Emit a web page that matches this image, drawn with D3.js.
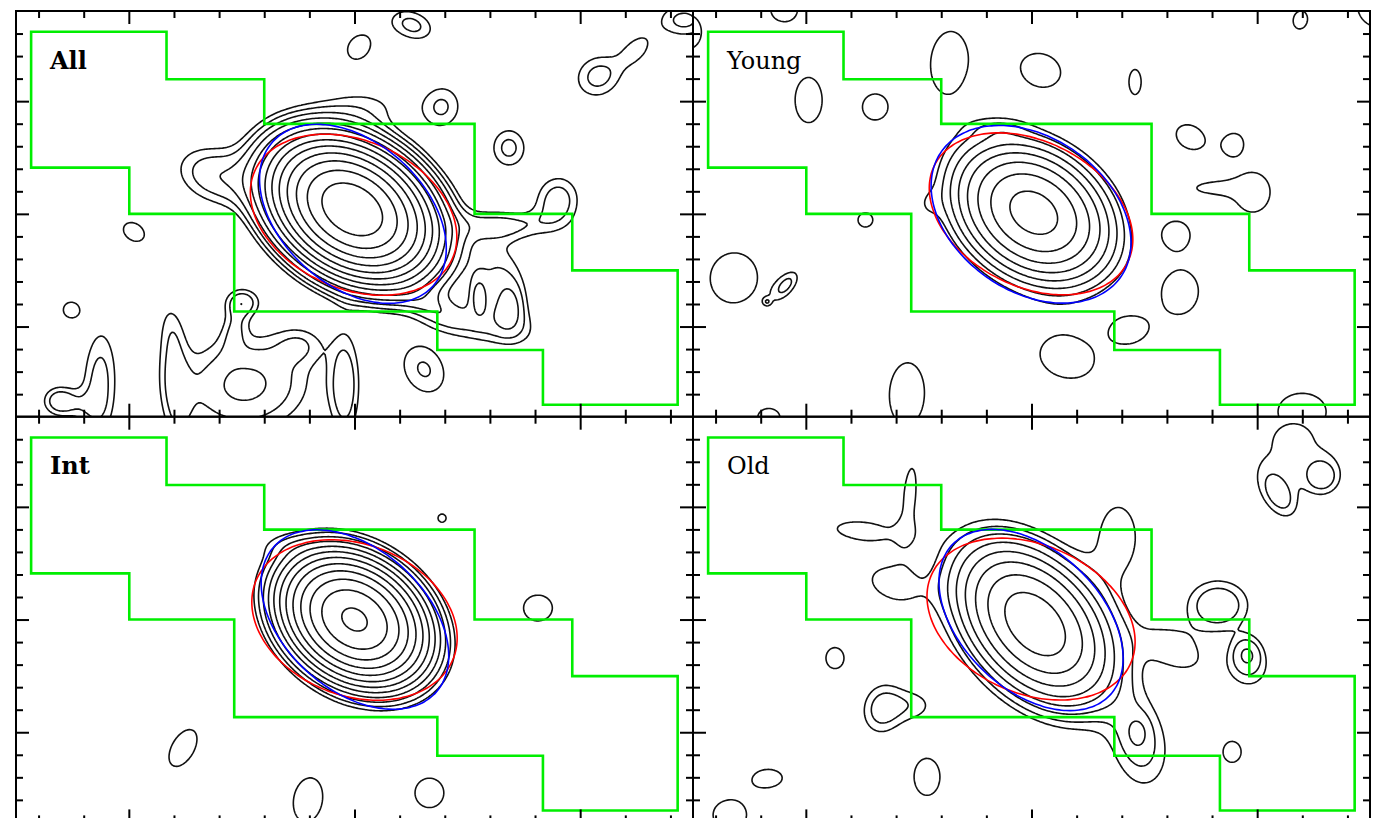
<!DOCTYPE html>
<html>
<head>
<meta charset="utf-8">
<script src="https://cdn.jsdelivr.net/npm/d3@7"></script>
<style>
  body { margin: 0; background: #fff; }
  svg { display: block; background: #fff; }
</style>
</head>
<body>
<svg width="1378" height="818"></svg>
<script>
// Panel titles, in reading order.
const panelNames = ["All", "Young", "Int", "Old"];

// Contour levels (same for every panel).
const contourLevels = [1.0, 1.5, 2.25, 3.38, 5.06, 7.59, 11.4, 17.1, 25.6, 38.4, 57.7, 86.5, 129.7];

// Axis ticks (offsets from the nucleus).
const xTicks = [-14, -12, -10, -8, -6, -4, -2, 0, 2, 4, 6, 8, 10, 12, 14];
const xMajorTicks = [-10, 0, 10];
const yTicks = [-8, -7, -6, -5, -4, -3, -2, -1, 0, 1, 2, 3, 4, 5, 6, 7, 8];
const yMajorTicks = [-5, 0, 5];

// Slit mask outline.
const slitX = [-14.33, -8.33, -8.33, -4.0, -4.0, 5.32, 5.32, 9.65, 9.65, 14.32,
  14.32, 8.35, 8.35, 3.67, 3.67, -5.33, -5.33, -9.98, -9.98, -14.33];
const slitY = [8.08, 8.08, 5.97, 5.97, 3.99, 3.99, 0, 0, -2.51, -2.51,
  -8.47, -8.47, -6.04, -6.04, -4.33, -4.33, 0, 0, 2.05, 2.05];

// Emission components: [x, y, peak, sigma major, sigma minor, angle]
const allSources = [
  [-0.1, 0.2, 182, 1.77, 1.24, -33],
  [-6.2, 1.7, 2.0, 1.3, 0.9, -20],
  [0.5, 4.8, 1.0, 1.5, 0.7, 0],
  [6.5, -0.5, 1.6, 1.6, 0.5, 0],
  [9.0, 0.6, 1.9, 0.85, 0.75, 80],
  [6.4, -2.8, 1.45, 1.3, 0.9, -80],
  [6.2, -4.9, 1.45, 1.5, 0.7, -15],
  [3.6, -4.3, 1.5, 1.2, 0.5, -30],
  [5.5, -3.6, 1.6, 0.6, 0.28, 90],
  [6.9, -4.1, 1.6, 0.75, 0.45, 90],
  [2.54, 8.38, 1.7, 0.82, 0.53, -20],
  [0.2, 7.4, 1.3, 0.79, 0.62, 50],
  [10.8, 6.1, 1.75, 0.85, 0.75, 30],
  [12.5, 7.3, 1.3, 0.7, 0.45, 45],
  [14.6, 8.6, 1.7, 0.9, 0.6, 0],
  [3.88, 4.74, 1.55, 0.82, 0.72, 80],
  [6.84, 2.93, 1.7, 0.73, 0.64, 90],
  [-9.78, -0.8, 1.3, 0.68, 0.51, -35],
  [-12.57, -4.26, 1.3, 0.45, 0.45, 0],
  [-11.3, -7.6, 1.8, 2.0, 0.6, 88],
  [-13.1, -8.3, 1.9, 0.55, 0.5, 0],
  [-12.2, -8.5, 0.6, 0.6, 0.5, 0],
  [-7.96, -7.6, 1.4, 2.5, 0.5, 95],
  [-8.0, -5.1, 0.45, 0.9, 0.4, 95],
  [-4.85, -7.58, 2.5, 2.0, 1.5, 5],
  [-4.95, -3.9, 1.7, 0.58, 0.45, 0],
  [-5.3, -5.0, 1.1, 0.8, 0.4, 80],
  [-2.42, -5.8, 1.1, 0.8, 0.6, 0],
  [-0.43, -7.62, 1.9, 1.8, 0.5, 90],
  [3.08, -6.9, 1.57, 1.1, 0.85, -60]
];

const youngSources = [
  [0.1, 0.05, 20.5, 1.9, 1.41, -35],
  [-1.5, 3.8, 0.7, 0.8, 0.35, 0],
  [-4.7, 0.4, 0.6, 0.45, 0.6, 0],
  [-3.66, 6.74, 1.3, 1.86, 1.11, 85],
  [0.42, 6.38, 1.3, 1.22, 0.98, -20],
  [4.59, 5.85, 1.3, 0.76, 0.37, 90],
  [-9.88, 5.05, 1.3, 1.38, 0.82, 90],
  [-6.94, 4.74, 1.3, 0.77, 0.73, 90],
  [7.03, 3.41, 1.45, 0.75, 0.58, -30],
  [8.93, 3.15, 1.25, 0.52, 0.46, 60],
  [9.8, 0.95, 1.3, 1.2, 1.05, 90],
  [7.8, 1.15, 1.05, 0.9, 0.3, 0],
  [-7.36, -0.27, 1.3, 0.45, 0.43, 0],
  [6.41, -0.84, 1.3, 0.64, 0.61, 0],
  [-13.19, -2.84, 1.3, 1.53, 1.44, 80],
  [-10.86, -3.15, 1.4, 0.6, 0.3, 50],
  [-11.72, -3.9, 0.85, 0.13, 0.13, 0],
  [6.61, -3.5, 1.3, 1.29, 1.07, 80],
  [4.35, -5.14, 1.25, 0.76, 0.6, 0],
  [1.57, -6.38, 1.3, 1.65, 1.22, -15],
  [-5.52, -8.0, 1.3, 1.92, 1.07, 88],
  [-11.64, -9.04, 1.3, 0.68, 0.56, 0],
  [11.99, -8.78, 1.3, 1.47, 1.13, 0],
  [-10.97, 9.04, 1.3, 0.79, 0.68, 0],
  [11.9, 8.6, 1.3, 0.52, 0.4, 80],
  [15.43, 9.26, 1.3, 1.36, 1.36, 0],
  [-15.2, 8.07, 1.3, 1.02, 0.79, 90]
];

const intSources = [
  [0, 0, 93, 1.6, 1.2, -35],
  [-3.1, 3.3, 0.6, 0.9, 0.4, 0],
  [3.88, 4.5, 1.2, 0.3, 0.3, 45],
  [8.13, 0.51, 1.3, 0.88, 0.79, 0],
  [-7.6, -5.7, 1.3, 1.24, 0.68, 60],
  [-2.06, -8.0, 1.3, 1.36, 0.88, 80],
  [3.32, -7.69, 1.3, 0.9, 0.88, 90]
];

const oldSources = [
  [0.16, -0.2, 22.7, 2.16, 1.4, -48],
  [-7.5, 3.95, 1.3, 1.5, 0.5, -5],
  [-5.39, 5.6, 1.2, 1.8, 0.4, 85],
  [-6.2, 1.6, 1.3, 1.2, 0.8, -20],
  [8.27, 0.64, 2.2, 1.04, 0.85, 0],
  [9.54, -1.44, 1.6, 0.5, 0.55, 0],
  [6.36, -1.35, 1.3, 1.4, 0.8, -30],
  [9.68, -2.24, 1.2, 0.8, 0.8, 0],
  [4.81, -5.56, 1.75, 1.6, 1.0, -80],
  [4.7, -4.99, 0.8, 0.5, 0.35, 90],
  [-6.63, -3.97, 1.8, 0.9, 0.7, 80],
  [-5.16, -3.79, 1.1, 0.8, 0.6, 0],
  [-8.71, -1.71, 1.3, 0.64, 0.55, 90],
  [3.84, 3.66, 1.3, 1.81, 1.04, 90],
  [8.89, -5.87, 1.3, 0.64, 0.55, 90],
  [-4.63, -6.98, 1.3, 1.13, 0.79, 90],
  [-11.64, -7.02, 1.3, 0.79, 0.49, 0],
  [-13.37, -8.67, 1.3, 1.02, 0.9, 0],
  [12.88, 6.32, 1.6, 0.55, 0.55, 0],
  [10.95, 5.52, 1.6, 0.85, 0.5, -60],
  [11.6, 7.9, 1.1, 2.0, 1.8, 0]
];

// Fitted ellipses, one per panel: [x, y, semi-major, semi-minor, angle]
const redFits = [
  [-0.04, -0.04, 4.79, 3.28, -24],
  [-0.02, 0, 4.79, 3.21, -27],
  [0, -0.02, 4.7, 3.36, -21],
  [-0.02, 0.02, 4.83, 3.29, -24]
];
const blueFits = [
  [-0.07, 0, 4.78, 3.17, -42],
  [-0.02, -0.02, 4.85, 3.41, -35],
  [0.02, 0, 4.83, 3.13, -42],
  [-0.02, -0.02, 4.83, 3.08, -44]
];

const panelSources = [allSources, youngSources, intSources, oldSources];

// Sampling grid for the contour maps, a little larger than the panels.
const grid = {x0: -16, x1: 16, y0: -10, y1: 10, step: 0.07};

function initPanel(svg, index) {
  const col = index % 2;
  const row = Math.floor(index / 2);
  const width = 677;
  const height = 405.7;
  const left = 16 + col * width;
  const top = 11 + row * height;

  const xScale = d3.scaleLinear().domain([-15, 15]).range([left, left + width]);
  const yScale = d3.scaleLinear().domain([-9, 9]).range([top + height, top]);

  const clipId = "clip" + index;
  svg.append("clipPath")
    .attr("id", clipId)
    .append("rect")
    .attr("x", left).attr("y", top)
    .attr("width", width).attr("height", height);

  const content = svg.append("g").attr("clip-path", "url(#" + clipId + ")");
  const frame = svg.append("g");

  return {index, left, top, width, height, xScale, yScale, content, frame};
}

function sampleField(sources) {
  const nx = Math.round((grid.x1 - grid.x0) / grid.step) + 1;
  const ny = Math.round((grid.y1 - grid.y0) / grid.step) + 1;
  const values = new Float64Array(nx * ny);

  sources.forEach(([cx, cy, peak, sMaj, sMin, angle]) => {
    const rad = angle * Math.PI / 180;
    const c = Math.cos(rad), s = Math.sin(rad);
    const reach = 4.5 * Math.max(sMaj, sMin);
    const i0 = Math.max(0, Math.floor((cx - reach - grid.x0) / grid.step));
    const i1 = Math.min(nx - 1, Math.ceil((cx + reach - grid.x0) / grid.step));
    const j0 = Math.max(0, Math.floor((grid.y1 - cy - reach) / grid.step));
    const j1 = Math.min(ny - 1, Math.ceil((grid.y1 - cy + reach) / grid.step));
    for (let j = j0; j <= j1; j++) {
      const dy = grid.y1 - j * grid.step - cy;
      for (let i = i0; i <= i1; i++) {
        const dx = grid.x0 + i * grid.step - cx;
        const u = (dx * c + dy * s) / sMaj;
        const v = (-dx * s + dy * c) / sMin;
        values[j * nx + i] += peak * Math.exp(-0.5 * (u * u + v * v));
      }
    }
  });

  return {nx, ny, values};
}

function renderContours(panel, sources) {
  const field = sampleField(sources);
  const contours = d3.contours()
    .size([field.nx, field.ny])
    .thresholds(contourLevels)(field.values);

  // Grid cell centres sit at +0.5 in d3.contours output.
  const project = d3.geoTransform({
    point: function(gx, gy) {
      this.stream.point(
        panel.xScale(grid.x0 + (gx - 0.5) * grid.step),
        panel.yScale(grid.y1 - (gy - 0.5) * grid.step));
    }
  });
  const path = d3.geoPath(project);

  panel.content.selectAll("path.contour")
    .data(contours)
    .enter()
    .append("path")
    .attr("class", "contour")
    .attr("d", path)
    .attr("fill", "none")
    .attr("stroke", "#111")
    .attr("stroke-width", 1.6)
    .attr("stroke-linejoin", "round");
}

function renderSlit(panel) {
  const line = d3.line()
    .x(d => panel.xScale(d[0]))
    .y(d => panel.yScale(d[1]))
    .curve(d3.curveLinearClosed);

  panel.content.append("path")
    .attr("d", line(d3.zip(slitX, slitY)))
    .attr("fill", "none")
    .attr("stroke", "#00ee00")
    .attr("stroke-width", 2.6);
}

function renderEllipse(panel, fit, color) {
  const [cx, cy, a, b, angle] = fit;
  const rad = angle * Math.PI / 180;
  const points = d3.range(0, 360, 3).map(t => {
    const r = t * Math.PI / 180;
    const u = a * Math.cos(r), v = b * Math.sin(r);
    return [cx + u * Math.cos(rad) - v * Math.sin(rad),
            cy + u * Math.sin(rad) + v * Math.cos(rad)];
  });
  const line = d3.line()
    .x(d => panel.xScale(d[0]))
    .y(d => panel.yScale(d[1]))
    .curve(d3.curveCardinalClosed);

  panel.content.append("path")
    .attr("d", line(points))
    .attr("fill", "none")
    .attr("stroke", color)
    .attr("stroke-width", 1.6);
}

function drawAxes(panel) {
  const {frame, xScale, yScale, left, top, width, height} = panel;
  const minorX = xTicks.filter(t => !xMajorTicks.includes(t));
  const minorY = yTicks.filter(t => !yMajorTicks.includes(t));

  // Ticks on all four sides, pointing inwards.
  const sides = [
    [d3.axisBottom, xScale, "translate(0," + top + ")", minorX, xMajorTicks],
    [d3.axisTop, xScale, "translate(0," + (top + height) + ")", minorX, xMajorTicks],
    [d3.axisRight, yScale, "translate(" + left + ",0)", minorY, yMajorTicks],
    [d3.axisLeft, yScale, "translate(" + (left + width) + ",0)", minorY, yMajorTicks]
  ];
  sides.forEach(([axisFn, scale, transform, minor, major]) => {
    [[minor, 7], [major, 13]].forEach(([values, size]) => {
      const axis = axisFn(scale)
        .tickValues(values)
        .tickSize(size)
        .tickSizeOuter(0)
        .tickFormat("");
      const g = frame.append("g").attr("transform", transform).call(axis);
      g.select(".domain").remove();
      g.selectAll("line").attr("stroke", "#000").attr("stroke-width", 2);
    });
  });

  frame.append("rect")
    .attr("x", left).attr("y", top)
    .attr("width", width).attr("height", height)
    .attr("fill", "none")
    .attr("stroke", "#000")
    .attr("stroke-width", 2);

  const bold = panel.index === 0 || panel.index === 2;
  frame.append("text")
    .attr("x", left + 34)
    .attr("y", top + 57.5)
    .style("font-family", "'DejaVu Serif', serif")
    .style("font-size", "24px")
    .style("font-weight", bold ? "bold" : "normal")
    .attr("fill", "#000")
    .text(panelNames[panel.index]);
}

window.addEventListener("load", function() {
  const svg = d3.select("svg");
  panelNames.forEach((name, i) => {
    const panel = initPanel(svg, i);
    renderContours(panel, panelSources[i]);
    renderSlit(panel);
    renderEllipse(panel, redFits[i], "#ff0000");
    renderEllipse(panel, blueFits[i], "#0000ff");
    drawAxes(panel);
  });
});
</script>
</body>
</html>
